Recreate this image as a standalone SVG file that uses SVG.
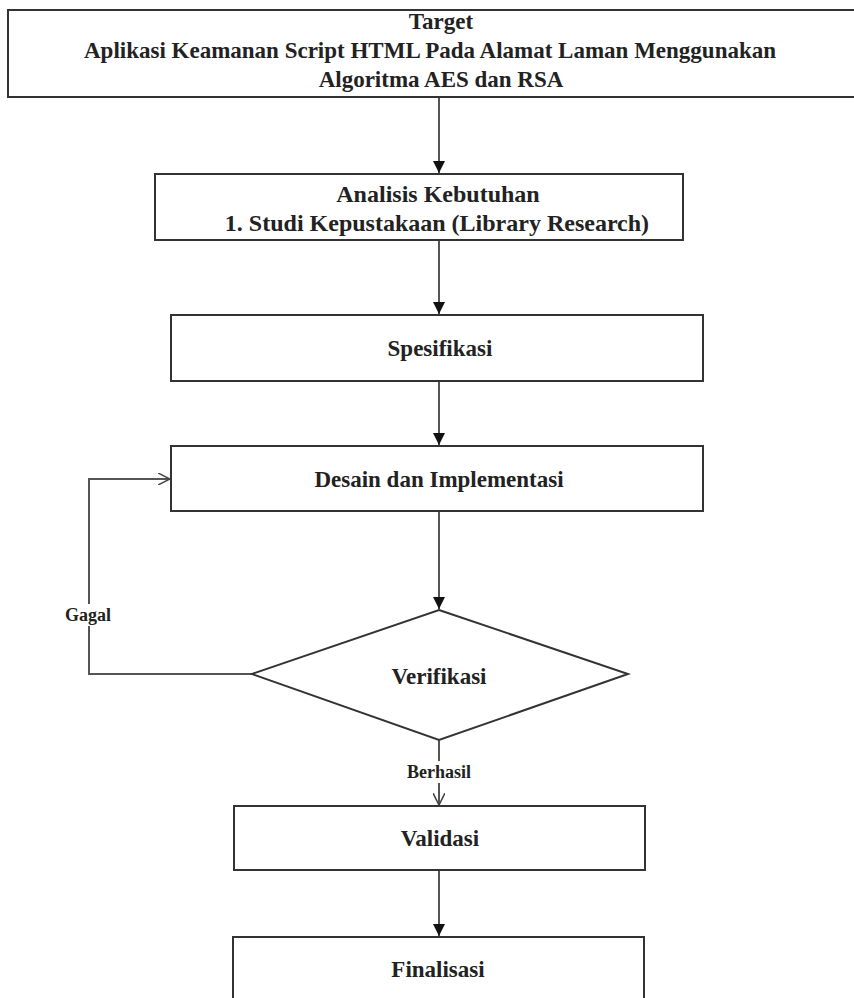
<svg xmlns="http://www.w3.org/2000/svg" width="854" height="998" viewBox="0 0 854 998">
<style>
.box{fill:#fff;stroke:#333;stroke-width:2}
.t{font-family:"Liberation Serif","Times New Roman",serif;font-weight:bold;font-size:23px;fill:#222;text-anchor:middle}
.t24{font-size:24px}
.lbl{font-family:"Liberation Serif","Times New Roman",serif;font-weight:bold;font-size:18px;fill:#222;text-anchor:middle}
.c{fill:none;stroke:#555;stroke-width:2}
</style>
<defs>
<marker id="fa" viewBox="0 0 10 10" refX="10" refY="5" markerWidth="6" markerHeight="6" orient="auto" markerUnits="strokeWidth">
<path d="M0,0 L10,5 L0,10 Z" fill="#111"/>
</marker>
<marker id="oa" viewBox="0 0 10 10" refX="10" refY="5" markerWidth="6" markerHeight="6" orient="auto" markerUnits="strokeWidth">
<path d="M0,0 L10,5 L0,10" fill="none" stroke="#444" stroke-width="1.3"/>
</marker>
</defs>
<rect width="854" height="998" fill="#fff"/>
<g id="connectors">
<line class="c" x1="439" y1="98" x2="439" y2="173" marker-end="url(#fa)"/>
<line class="c" x1="439" y1="240" x2="439" y2="314" marker-end="url(#fa)"/>
<line class="c" x1="439" y1="381" x2="439" y2="445" marker-end="url(#fa)"/>
<line class="c" x1="439" y1="511" x2="439" y2="609" marker-end="url(#fa)"/>
<polyline class="c" points="252,674 89,674 89,479 170,479" marker-end="url(#oa)"/>
<line class="c" x1="439" y1="740" x2="439" y2="805" marker-end="url(#oa)"/>
<line class="c" x1="439" y1="870" x2="439" y2="936" marker-end="url(#fa)"/>
<rect x="62" y="604" width="54" height="22" fill="#fff"/>
<text class="lbl" x="88" y="621">Gagal</text>
<rect x="403" y="761" width="72" height="22" fill="#fff"/>
<text class="lbl" x="439" y="778">Berhasil</text>
</g>
<g id="target">
<rect class="box" x="8" y="10" width="860" height="87"/>
<text class="t" x="441" y="29">Target</text>
<text class="t" x="430" y="58">Aplikasi Keamanan Script HTML Pada Alamat Laman Menggunakan</text>
<text class="t" x="441" y="87">Algoritma AES dan RSA</text>
</g>
<g id="analisis">
<rect class="box" x="155" y="174" width="528" height="66"/>
<text class="t t24" x="438" y="202">Analisis Kebutuhan</text>
<text class="t t24" x="437" y="231">1. Studi Kepustakaan (Library Research)</text>
</g>
<g id="spesifikasi">
<rect class="box" x="171" y="315" width="532" height="66"/>
<text class="t" x="440" y="356">Spesifikasi</text>
</g>
<g id="desain">
<rect class="box" x="171" y="446" width="532" height="65"/>
<text class="t" x="439" y="487">Desain dan Implementasi</text>
</g>
<g id="verifikasi">
<polygon class="box" points="439,610 628,674 439,740 252,674"/>
<text class="t" x="439" y="684">Verifikasi</text>
</g>
<g id="validasi">
<rect class="box" x="234" y="806" width="411" height="64"/>
<text class="t" x="440" y="846">Validasi</text>
</g>
<g id="finalisasi">
<rect class="box" x="233" y="937" width="411" height="80"/>
<text class="t" x="438" y="977">Finalisasi</text>
</g>
</svg>
